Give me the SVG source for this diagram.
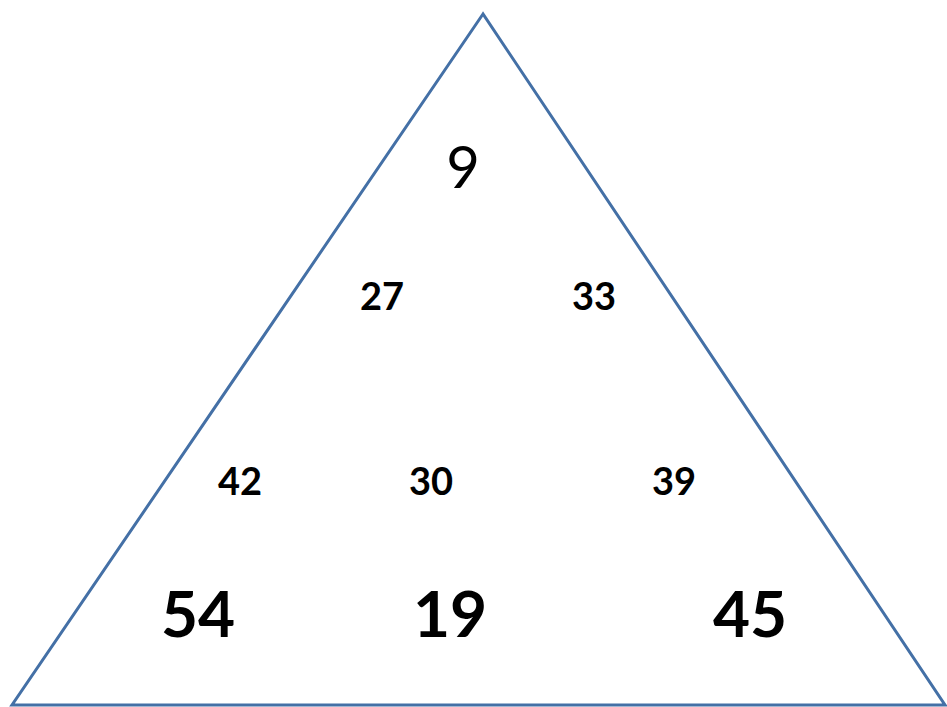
<svg xmlns="http://www.w3.org/2000/svg" width="947" height="707" viewBox="0 0 947 707">
<style>
.t{font-family:Lato,"Open Sans","Liberation Sans",sans-serif;fill:#000;text-anchor:middle}
.s{font-size:38px;font-weight:bold}
.b{font-size:64px;font-weight:bold}
.top{font-size:58px;font-weight:normal}
</style>
<rect width="947" height="707" fill="#fff"/>
<g id="triangle">
<polygon points="483,14 12,705 945,705" fill="none" stroke="#4470a6" stroke-width="3" stroke-linejoin="miter"/>
</g>
<g id="n9"><text class="t top" x="463" y="188">9</text></g>
<g id="n27"><text class="t s" x="382" y="310">27</text></g>
<g id="n33"><text class="t s" x="594" y="310">33</text></g>
<g id="n42"><text class="t s" x="240" y="495">42</text></g>
<g id="n30"><text class="t s" x="431" y="495">30</text></g>
<g id="n39"><text class="t s" x="674" y="495">39</text></g>
<g id="n54"><text class="t b" x="198" y="637">54</text></g>
<g id="n19"><text class="t b" x="450" y="637">19</text></g>
<g id="n45"><text class="t b" x="750" y="637">45</text></g>
</svg>
